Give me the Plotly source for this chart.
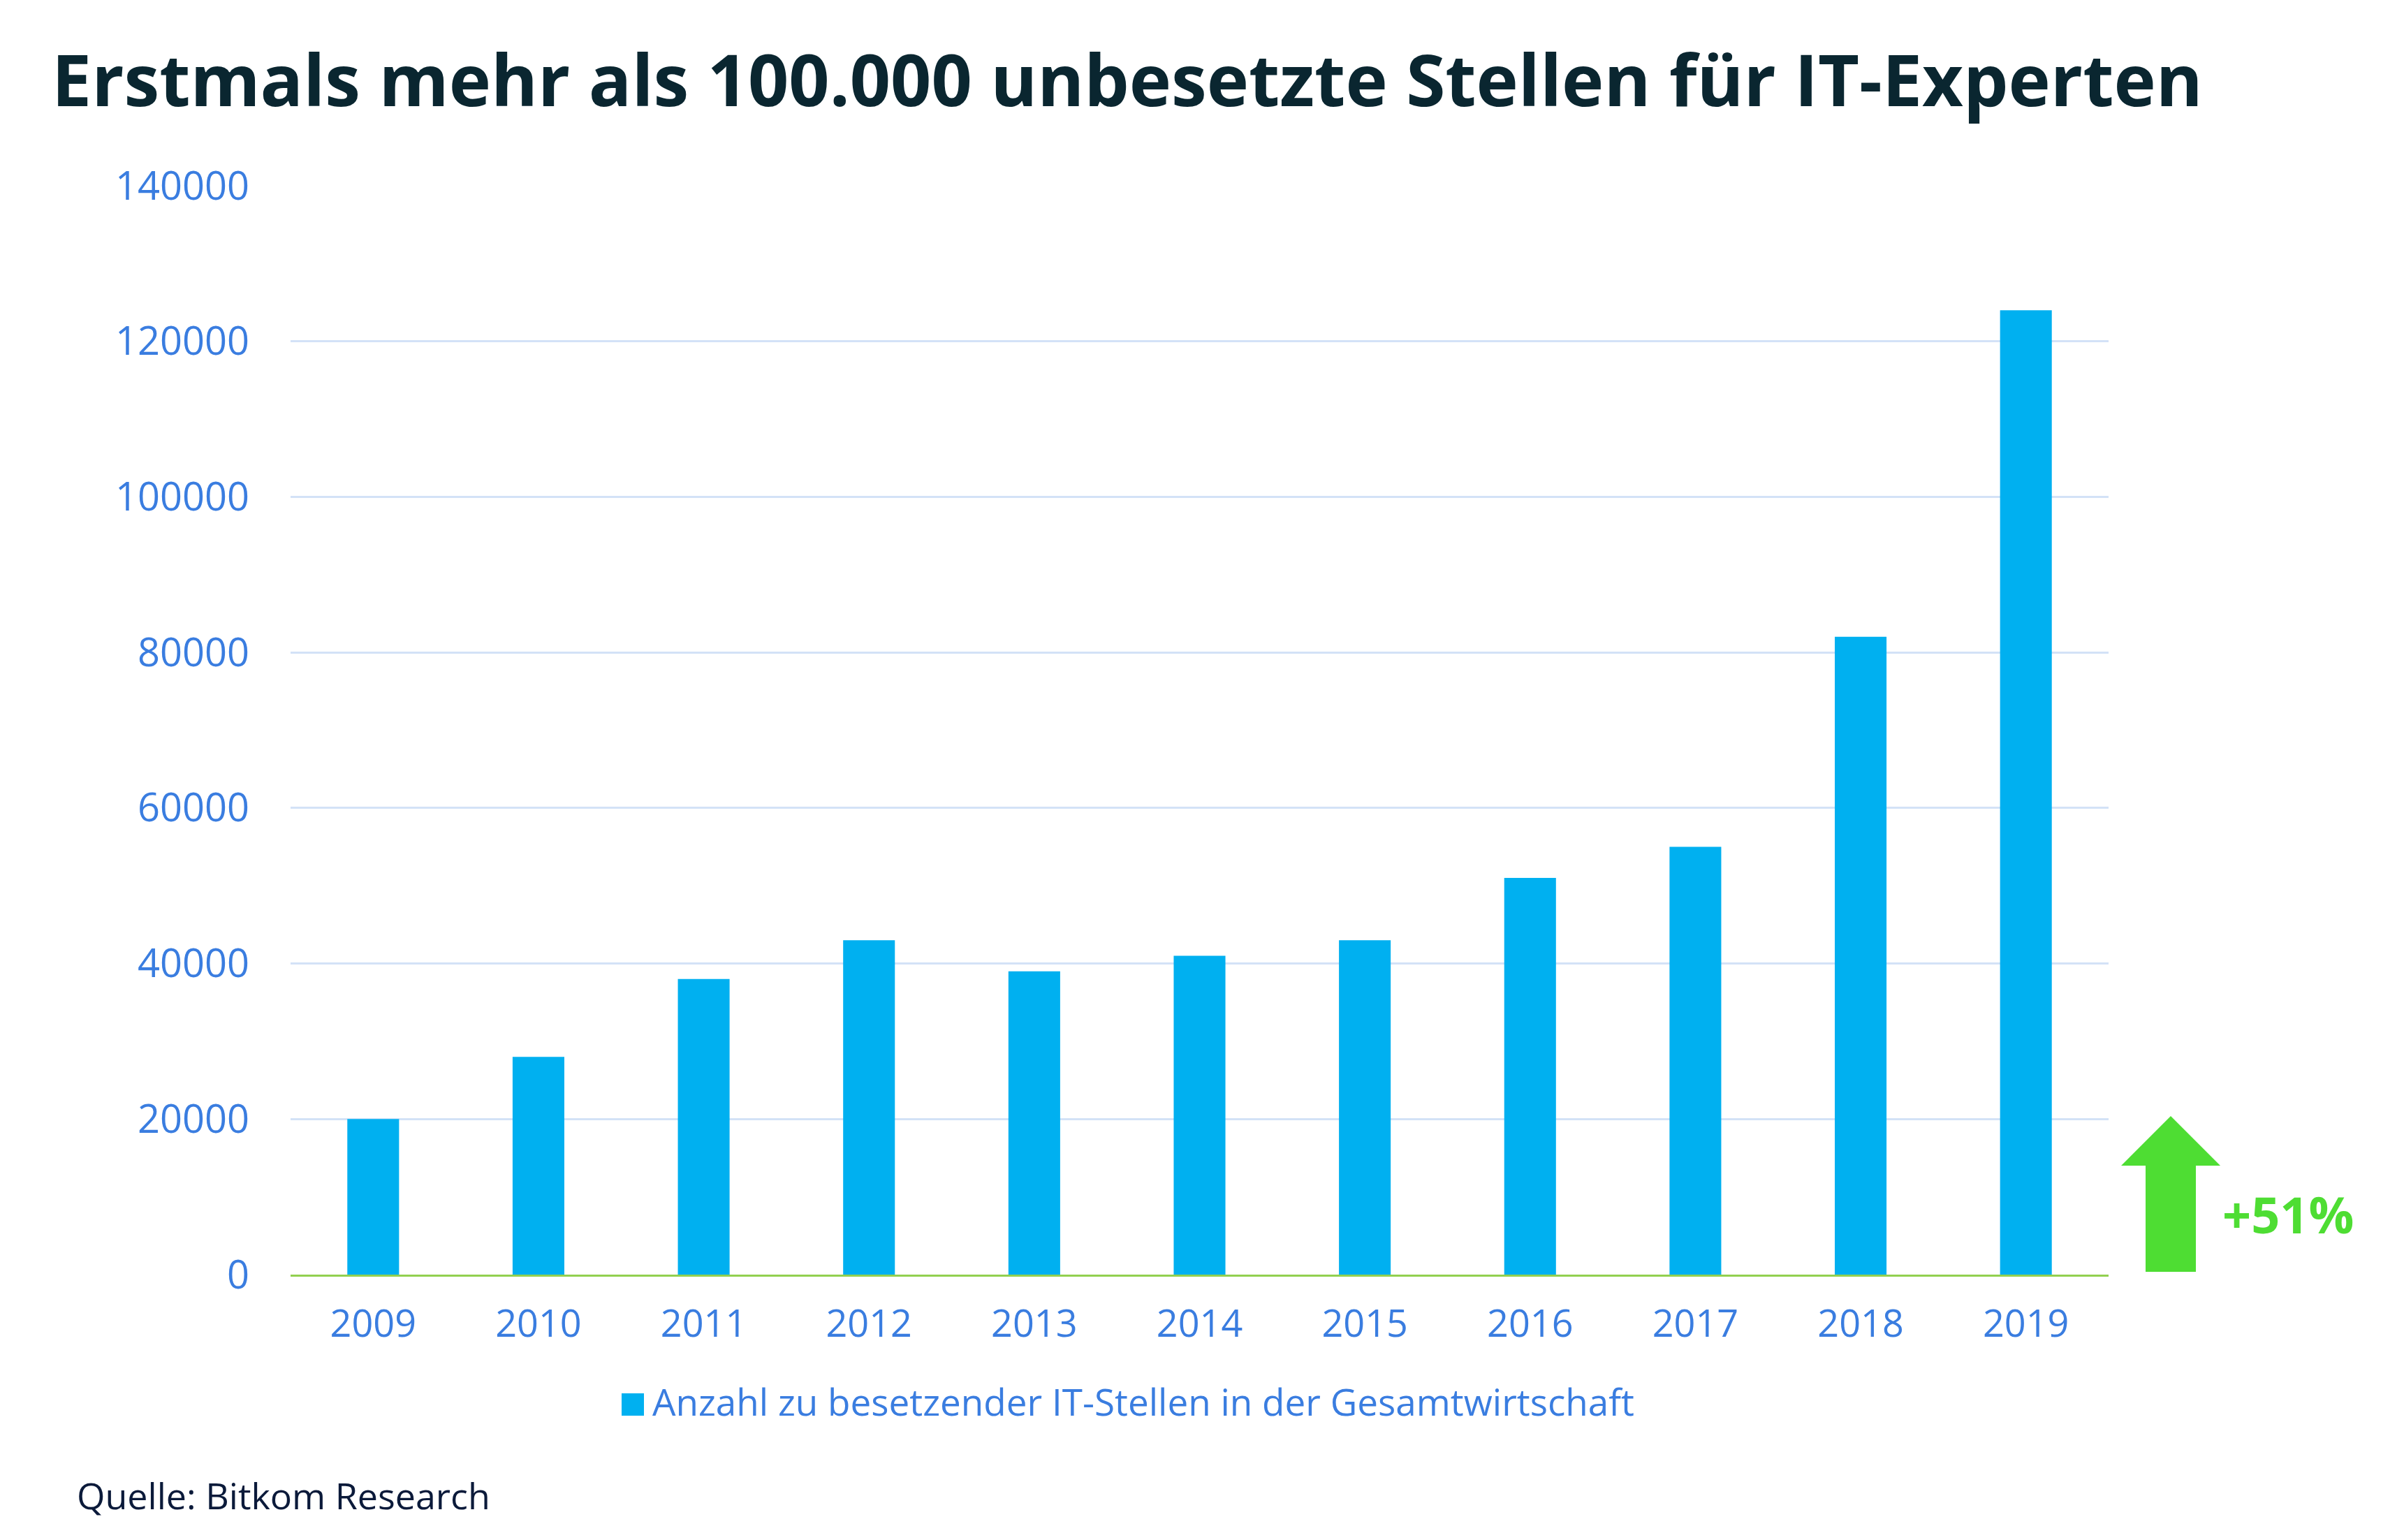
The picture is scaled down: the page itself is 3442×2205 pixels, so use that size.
import plotly.graph_objects as go

years = ["2009", "2010", "2011", "2012", "2013", "2014", "2015", "2016", "2017", "2018", "2019"]
stellen = [20000, 28000, 38000, 43000, 39000, 41000, 43000, 51000, 55000, 82000, 124000]
y_ticks = [0, 20000, 40000, 60000, 80000, 100000, 120000, 140000]

title_text = "Erstmals mehr als 100.000 unbesetzte Stellen für IT-Experten"
legend_text = "Anzahl zu besetzender IT-Stellen in der Gesamtwirtschaft"
source_text = "Quelle: Bitkom Research"
growth_text = "+51%"

W, H = 3442, 2205
L, R, T, B = 408, 431, 258, 388
PW, PH = W - L - R, H - T - B

def px(x):
    return (x - L) / PW

def py(y):
    return (H - B - y) / PH

BAR = "#00B0F0"
TICK = "#3A7DE0"
GREEN = "#4EDD33"

fig = go.Figure()
fig.add_trace(go.Bar(
    x=years, y=stellen, marker=dict(color=BAR, line=dict(width=0)),
    name=legend_text, showlegend=False, width=0.313,
))

# arrow
path = (f"M {px(3064)} {py(1813)} L {px(3064)} {py(1661)} L {px(3029)} {py(1661)} "
        f"L {px(3100)} {py(1590)} L {px(3171)} {py(1661)} L {px(3136)} {py(1661)} "
        f"L {px(3136)} {py(1813)} Z")
shapes = [
    dict(type="path", xref="paper", yref="paper", path=path,
         fillcolor=GREEN, line=dict(width=0)),
    dict(type="rect", xref="paper", yref="paper",
         x0=px(882), x1=px(914), y0=py(2019), y1=py(1987),
         fillcolor=BAR, line=dict(width=0)),
]

annotations = [
    dict(text=growth_text, xref="paper", yref="paper", x=px(3172), y=py(1730),
         xanchor="left", yanchor="middle", showarrow=False,
         font=dict(family="Open Sans", size=72, color=GREEN, weight="bold")),
    dict(text=legend_text, xref="paper", yref="paper", x=px(924), y=py(1998),
         xanchor="left", yanchor="middle", showarrow=False,
         font=dict(family="Open Sans", size=53, color=TICK)),
    dict(text=source_text, xref="paper", yref="paper", x=px(100), y=py(2132),
         xanchor="left", yanchor="middle", showarrow=False,
         font=dict(family="Open Sans", size=52, color="#0B1A3A")),
]

fig.update_layout(
    width=W, height=H,
    margin=dict(l=L, r=R, t=T, b=B, pad=0),
    paper_bgcolor="white", plot_bgcolor="white",
    title=dict(text=title_text, x=66 / W, xanchor="left", y=1 - 108 / H, yanchor="middle",
               font=dict(family="Open Sans", size=102, color="#0A2630", weight="bold")),
    shapes=shapes, annotations=annotations,
    showlegend=False,
    bargap=0.687,
)
fig.update_xaxes(
    type="category", showgrid=False, showline=True, linecolor="#92D050", linewidth=3,
    ticks="", ticklabelstandoff=21,
    tickfont=dict(family="Open Sans", size=54, color=TICK),
)
fig.update_yaxes(
    range=[0, 140000], tickvals=y_ticks, ticktext=[str(v) for v in y_ticks],
    showgrid=True, gridcolor="#D3E2F7", gridwidth=3, zeroline=False,
    showline=False, ticks="", ticklabelstandoff=58,
    tickfont=dict(family="Open Sans", size=56, color=TICK),
)

fig.write_html("out.html")
